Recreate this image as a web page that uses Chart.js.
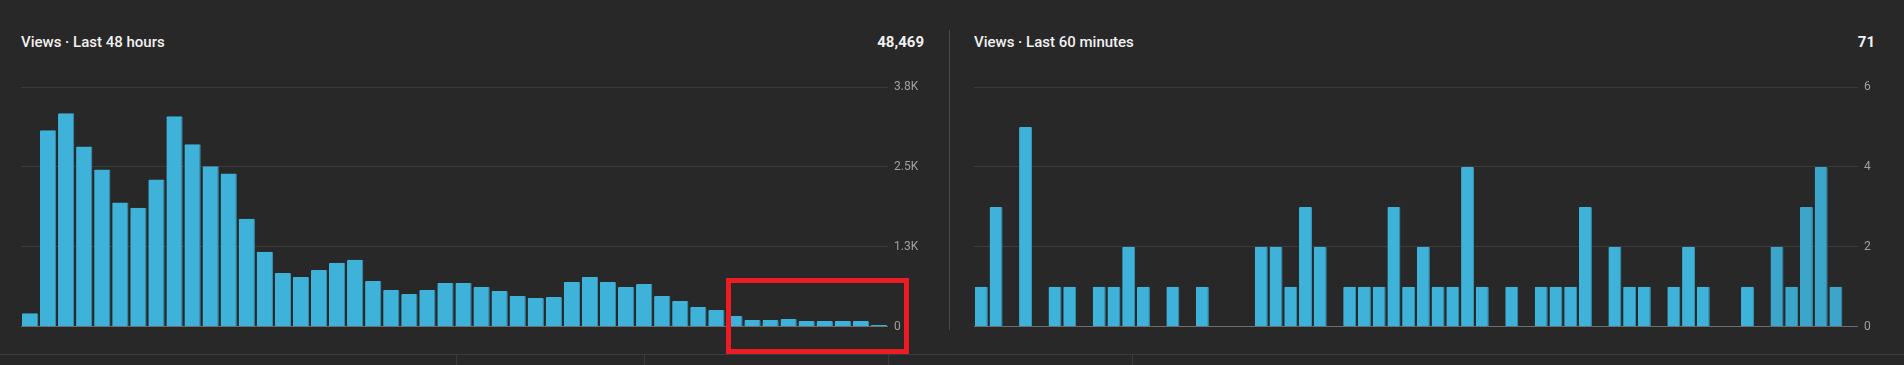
<!DOCTYPE html>
<html>
<head>
<meta charset="utf-8">
<script src="https://cdn.jsdelivr.net/npm/chart.js@4/dist/chart.umd.min.js"></script>
<style>
  html, body { margin: 0; padding: 0; background: #282828; width: 1904px; height: 365px; overflow: hidden; font-family: Roboto, "Noto Sans", sans-serif; }
  .titulo { position: absolute; top: 32px; color: #f1f1f1; font-size: 15px; font-weight: 500; line-height: 20px; }
  .total { position: absolute; top: 32px; color: #f1f1f1; font-size: 15px; font-weight: 700; line-height: 20px; text-align: right; }
  .caja { position: absolute; }
  .sep { position: absolute; left: 949px; top: 30px; width: 1px; height: 300px; background: #4a4a4a; }
  .linea_inf { position: absolute; left: 0; top: 354px; width: 1904px; height: 1px; background: #3c3c3c; }
  .tick_inf { position: absolute; top: 354px; width: 1px; height: 11px; background: #3c3c3c; }
  .marca { position: absolute; left: 726px; top: 278px; width: 173px; height: 66px; border: 5px solid #ed1c24; }
</style>
</head>
<body>

<div class="titulo" style="left:21px">Views · Last 48 hours</div>
<div class="total" style="left:824px; width:100px">48,469</div>
<div class="titulo" style="left:974px">Views · Last 60 minutes</div>
<div class="total" style="left:1775px; width:100px">71</div>

<div class="sep"></div>

<div class="caja" style="left:21px; top:70px; width:903px; height:270px;"><canvas id="myChart48"></canvas></div>
<div class="caja" style="left:974px; top:70px; width:920px; height:270px;"><canvas id="myChart60"></canvas></div>

<div class="linea_inf"></div>
<div class="tick_inf" style="left:456px"></div>
<div class="tick_inf" style="left:644px"></div>
<div class="tick_inf" style="left:888px"></div>
<div class="tick_inf" style="left:1132px"></div>

<div class="marca"></div>

<script>
// vistas por hora, ultimas 48 horas
var horas = [];
for (var i = 48; i >= 1; i--) horas.push(i + 'h');
var vistas_48h = [210, 3072, 3339, 2821, 2460, 1942, 1863, 2303, 3292, 2853, 2512, 2397,
    1691, 1173, 843, 780, 890, 1000, 1047, 717, 576, 513, 576, 686,
    686, 623, 560, 482, 450, 466, 702, 780, 702, 623, 670, 482,
    403, 309, 262, 168, 105, 105, 121, 89, 89, 89, 89, 27];
var ticks_48h = [0, 1250, 2500, 3750];
var etiquetas_48h = ['0', '1.3K', '2.5K', '3.8K'];

// vistas por minuto, ultimos 60 minutos
var minutos = [];
for (var j = 60; j >= 1; j--) minutos.push(j + 'm');
var vistas_60m = [1, 3, 0, 5, 0, 1, 1, 0, 1, 1, 2, 1, 0, 1, 0, 1, 0, 0, 0, 2,
    2, 1, 3, 2, 0, 1, 1, 1, 3, 1, 2, 1, 1, 4, 1, 0, 1, 0, 1, 1,
    1, 3, 0, 2, 1, 1, 0, 1, 2, 1, 0, 0, 1, 0, 2, 1, 3, 4, 1, 0];
var ticks_60m = [0, 2, 4, 6];
var etiquetas_60m = ['0', '2', '4', '6'];

function opciones(ticks, etiquetas, barra) {
    return {
        responsive: true,
        maintainAspectRatio: false,
        animation: false,
        layout: { padding: { top: 17, bottom: 10, left: 0, right: 0 } },
        plugins: { legend: { display: false }, tooltip: { enabled: false } },
        scales: {
            x: { display: false, grid: { display: false } },
            y: {
                position: 'right',
                min: ticks[0],
                max: ticks[ticks.length - 1],
                afterBuildTicks: function (scale) {
                    scale.ticks = ticks.map(function (v) { return { value: v }; });
                },
                afterFit: function (scale) { scale.width = barra; },
                border: { display: false },
                grid: {
                    drawTicks: false,
                    color: function (c) { return c.tick && c.tick.value === 0 ? '#6e6e6e' : '#3b3b3b'; },
                    lineWidth: 1
                },
                ticks: {
                    padding: 6,
                    color: '#a0a0a0',
                    font: { family: 'Roboto', size: 12 },
                    callback: function (v) {
                        var k = ticks.indexOf(v);
                        return k >= 0 ? etiquetas[k] : '';
                    }
                }
            }
        }
    };
}

var colores_60m = vistas_60m.map(function (v, i) { return i >= 54 ? '#3ba5ca' : '#3fb2d9'; });

var myChart48 = new Chart(document.getElementById('myChart48'), {
    type: 'bar',
    data: {
        labels: horas,
        datasets: [{
            label: 'Views',
            data: vistas_48h,
            backgroundColor: '#3fb2d9',
            borderColor: '#3596b8',
            borderWidth: { top: 0, left: 0, right: 1, bottom: 0 },
            borderRadius: 1,
            borderSkipped: 'bottom',
            categoryPercentage: 1,
            barPercentage: 0.9
        }]
    },
    options: opciones(ticks_48h, etiquetas_48h, 36)
});

var myChart60 = new Chart(document.getElementById('myChart60'), {
    type: 'bar',
    data: {
        labels: minutos,
        datasets: [{
            label: 'Views',
            data: vistas_60m,
            backgroundColor: colores_60m,
            borderColor: '#3596b8',
            borderWidth: { top: 0, left: 0, right: 1, bottom: 0 },
            borderRadius: 1,
            borderSkipped: 'bottom',
            categoryPercentage: 1,
            barPercentage: 0.88
        }]
    },
    options: opciones(ticks_60m, etiquetas_60m, 36)
});
</script>
</body>
</html>
